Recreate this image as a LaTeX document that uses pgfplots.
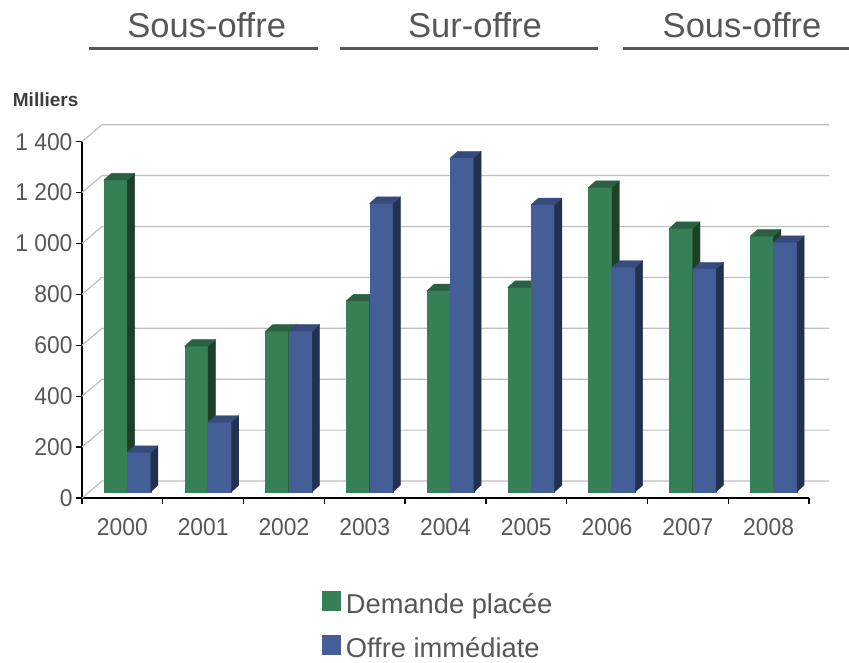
\documentclass[border=0pt]{standalone}
\usepackage{fontspec}
\setmainfont{Liberation Sans}
\newfontfamily\narrowfont{Liberation Sans}[FakeStretch=0.94]
\usepackage{pgfplots}
\usepackage{pgfplotstable}
\pgfplotsset{compat=1.18}

\definecolor{gfront}{HTML}{377F55}
\definecolor{gside}{HTML}{1E4029}
\definecolor{gtop}{HTML}{2B6142}
\definecolor{bfront}{HTML}{445F97}
\definecolor{bside}{HTML}{233150}
\definecolor{btop}{HTML}{364B7B}
\definecolor{txt}{HTML}{575757}
\definecolor{gridc}{HTML}{BFBFBF}

\pgfdeclareplotmark{nothing}{}

% milliers
\pgfplotstableread{
i v
0 1225
1 572
2 631
3 750
4 790
5 803
6 1196
7 1035
8 1004
}\demande
\pgfplotstableread{
i v
0 155
1 273
2 631
3 1133
4 1312
5 1128
6 882
7 876
8 980
}\offre

% pseudo-3D bar: #1 = x offset (pt), #2 front, #3 side, #4 top
\pgfplotsset{
  bar3d/.style n args={4}{
    scatter, only marks, mark=nothing,
    visualization depends on={\thisrow{v} \as \barval},
    scatter/@pre marker code/.code={%
      \pgfmathsetmacro\barh{\barval*0.2545}%
      \fill[#2] (#1pt,6.3pt) rectangle ({#1pt+23.4pt},{6.3pt-\barh pt});
      \fill[#3] ({#1pt+23.4pt},6.3pt) -- ({#1pt+30.6pt},12.8pt) -- ({#1pt+30.6pt},{12.8pt-\barh pt}) -- ({#1pt+23.4pt},{6.3pt-\barh pt}) -- cycle;
      \fill[#4] (#1pt,6.3pt) -- ({#1pt+23.4pt},6.3pt) -- ({#1pt+30.6pt},12.8pt) -- ({#1pt+7.2pt},12.8pt) -- cycle;
    },
    scatter/@post marker code/.code={},
    legend image code/.code={\fill[#2] (0pt,-6pt) rectangle (18pt,13pt); \path (21pt,0pt);},
  },
}

\begin{document}
\begin{tikzpicture}
\useasboundingbox (0,0) rectangle (849pt,662pt);
\begin{axis}[
  at={(82pt,164pt)}, anchor=south west,
  scale only axis, width=727pt, height=356.3pt,
  xmin=-0.5, xmax=8.5, ymin=0, ymax=1400,
  axis x line*=bottom, axis y line*=left,
  axis line style={black, line width=1.3pt, -},
  clip=false,
  xtick={0,...,8},
  xticklabels={2000,2001,2002,2003,2004,2005,2006,2007,2008},
  minor xtick={-0.5,0.5,...,8.5},
  ytick={0,200,...,1400},
  yticklabels={0,200,400,600,800,1 000,1 200,1 400},
  tick align=outside,
  major tick length=6pt, minor tick length=6pt,
  tick style={black, line width=1.3pt},
  major x tick style={draw=none},
  ticklabel style={font=\narrowfont\fontsize{24.3pt}{29pt}\selectfont, text=txt},
  xticklabel style={yshift=-11pt},
  legend cell align=left,
  legend style={at={(axis description cs:0.3305,-0.26)}, anchor=north west,
    draw=none, fill=none, inner sep=0pt, row sep=18pt,
    font=\fontsize{27.3pt}{31pt}\selectfont, text=txt},
]
% back wall grid and left wall diagonals
\pgfplotsinvokeforeach{0,200,...,1400}{
  \draw[gridc, line width=1.2pt] (axis cs:-0.5,#1) -- ++(20pt,17pt) -- ++(727pt,0pt);
}
\addplot[bar3d={-18.4}{gfront}{gside}{gtop}] table[x=i, y=v] {\demande};
\addlegendentry{Demande placée}
\addplot[bar3d={5}{bfront}{bside}{btop}] table[x=i, y=v] {\offre};
\addlegendentry{Offre immédiate}
\end{axis}

\node[anchor=base west, inner sep=0pt, font=\bfseries\fontsize{19pt}{22pt}\selectfont, text=txt!70!black] at (12.7pt,555.3pt) {Milliers};

\begin{scope}[every node/.style={anchor=base, inner sep=0pt, font=\fontsize{34.5pt}{40pt}\selectfont, text=txt}]
  \node at (206.7pt,624.3pt) {Sous-offre};
  \node at (475pt,624.3pt) {Sur-offre};
  \node at (742pt,624.3pt) {Sous-offre};
\end{scope}
\draw[txt, line width=2.5pt] (89.3pt,613.7pt) -- (318pt,613.7pt);
\draw[txt, line width=2.5pt] (340pt,613.7pt) -- (598pt,613.7pt);
\draw[txt, line width=2.5pt] (622.7pt,613.7pt) -- (849pt,613.7pt);
\end{tikzpicture}
\end{document}
